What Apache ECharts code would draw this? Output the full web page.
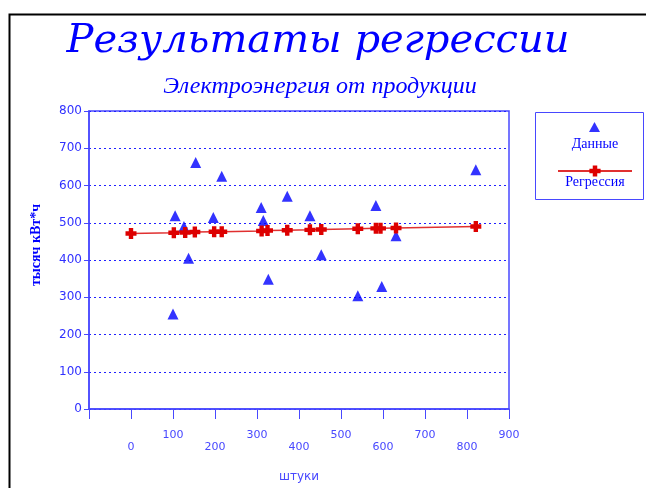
<!DOCTYPE html>
<html>
<head>
<meta charset="utf-8">
<script src="https://cdn.jsdelivr.net/npm/echarts@6/dist/echarts.min.js"></script>
<style>
  html, body { margin: 0; padding: 0; background: #fff; }
  #chart { width: 646px; height: 488px; }
</style>
</head>
<body>
<div id="chart"></div>
<script>
// данные: штуки -> тысяч кВт*ч
var dataX = [100, 105, 126, 137, 154, 196, 216, 310, 315, 327, 372, 426, 453, 540, 583, 597, 631, 821];
var dataY = [255, 519, 490, 405, 662, 514, 625, 541, 506, 348, 571, 519, 414, 304, 546, 329, 465, 642];

// регрессия
var regX = [0, 102, 129, 152, 198, 216, 311, 325, 372, 426, 453, 540, 583, 594, 631, 821];
var regY = [471, 473, 474, 475, 476, 476, 478, 479, 480, 481, 482, 484, 485, 485, 486, 490];

var xTicks = [-100, 0, 100, 200, 300, 400, 500, 600, 700, 800, 900];
var yTicks = [0, 100, 200, 300, 400, 500, 600, 700, 800];

(function(){

    var chart = echarts.init(document.getElementById('chart'));
    var blue = '#0000ff';
    var axisBlue = '#4848ff';
    var plus = 'path://M3,0H7V3H10V7H7V10H3V7H0V3H3Z';

    function pairs(xs, ys) {
        return xs.map(function(x, i){ return [x, ys[i]]; });
    }

    var option = {
        animation: false,
        title: [
            {
                text: 'Результаты регрессии',
                left: 313, top: 17, textAlign: 'center',
                textStyle: { fontFamily: 'DejaVu Serif', fontStyle: 'italic', fontWeight: 'normal', fontSize: 40, color: blue }
            },
            {
                text: 'Электроэнергия от продукции',
                left: 315, top: 70, textAlign: 'center',
                textStyle: { fontFamily: 'Liberation Serif', fontStyle: 'italic', fontWeight: 'normal', fontSize: 24, color: blue }
            }
        ],
        graphic: [
            { type: 'rect', left: 7, top: 12, shape: { width: 700, height: 600 }, style: { fill: 'none', stroke: '#000', lineWidth: 2 }, silent: true },
            { type: 'rect', left: 535, top: 112, shape: { width: 108, height: 87 }, style: { fill: '#fff', stroke: axisBlue, lineWidth: 1 }, z: 0, silent: true }
        ],
        legend: [
            {
                data: ['Данные'],
                left: 584, top: 117,
                itemWidth: 11, itemHeight: 10,
                formatter: function(){ return ''; },
                textStyle: { fontSize: 1 }
            },
            {
                data: ['Регрессия'],
                left: 552, top: 159,
                itemWidth: 74, itemHeight: 14,
                formatter: function(){ return ''; },
                textStyle: { fontSize: 1 }
            },
            {
                data: ['Данные', 'Регрессия'],
                orient: 'vertical', left: 540, top: 132,
                itemWidth: 0, itemHeight: 0, itemGap: 24,
                icon: 'rect',
                formatter: '{c|{name}}',
                textStyle: {
                    rich: { c: { width: 90, align: 'center', fontFamily: 'Liberation Serif', fontSize: 14, color: blue, lineHeight: 16 } }
                }
            }
        ],
        grid: {
            left: 89, right: 137, top: 111, bottom: 76,
            show: true, borderColor: axisBlue, borderWidth: 1.5, backgroundColor: 'transparent'
        },
        xAxis: {
            type: 'value', min: xTicks[0], max: xTicks[xTicks.length - 1], interval: 100,
            name: 'штуки', nameLocation: 'middle', nameGap: 62,
            nameTextStyle: { fontFamily: 'DejaVu Sans', fontSize: 12, color: axisBlue },
            axisLine: { onZero: false, lineStyle: { color: axisBlue, width: 1.5 } },
            axisTick: { length: 10, lineStyle: { color: axisBlue } },
            splitLine: { show: false },
            axisLabel: {
                margin: 21,
                formatter: function(v){
                    if (v === xTicks[0]) return '';
                    return (Math.round(v / 100) % 2 === 0 ? '{lo|' : '{hi|') + v + '}';
                },
                rich: {
                    hi: { fontFamily: 'DejaVu Sans', fontSize: 11, color: axisBlue, padding: [0, 0, 12, 0] },
                    lo: { fontFamily: 'DejaVu Sans', fontSize: 11, color: axisBlue, padding: [12, 0, 0, 0] }
                }
            }
        },
        yAxis: {
            type: 'value', min: yTicks[0], max: yTicks[yTicks.length - 1], interval: 100,
            name: 'тысяч кВт*ч', nameLocation: 'middle', nameGap: 46, nameRotate: 90,
            nameTextStyle: { fontFamily: 'Liberation Serif', fontWeight: 'bold', fontSize: 14, color: blue, padding: [0, 0, 0, 30] },
            axisLine: { show: true, onZero: false, lineStyle: { color: axisBlue, width: 1.5 } },
            axisTick: { show: true, length: 5, lineStyle: { color: axisBlue } },
            axisLabel: { margin: 7, fontFamily: 'DejaVu Sans', fontSize: 12, color: '#3030ff' },
            splitLine: { show: true, lineStyle: { color: '#2020ff', type: [2, 3], width: 1 } }
        },
        series: [
            {
                name: 'Данные',
                type: 'scatter',
                symbol: 'triangle',
                symbolSize: 11,
                itemStyle: { color: blue },
                data: pairs(dataX, dataY),
                z: 3
            },
            {
                name: 'Регрессия',
                type: 'line',
                symbol: plus,
                symbolSize: 11,
                showAllSymbol: true,
                lineStyle: { color: '#e03030', width: 1.5 },
                itemStyle: { color: '#dd0000' },
                data: pairs(regX, regY),
                z: 4
            }
        ]
    };

    chart.setOption(option);
})();
</script>
</body>
</html>
